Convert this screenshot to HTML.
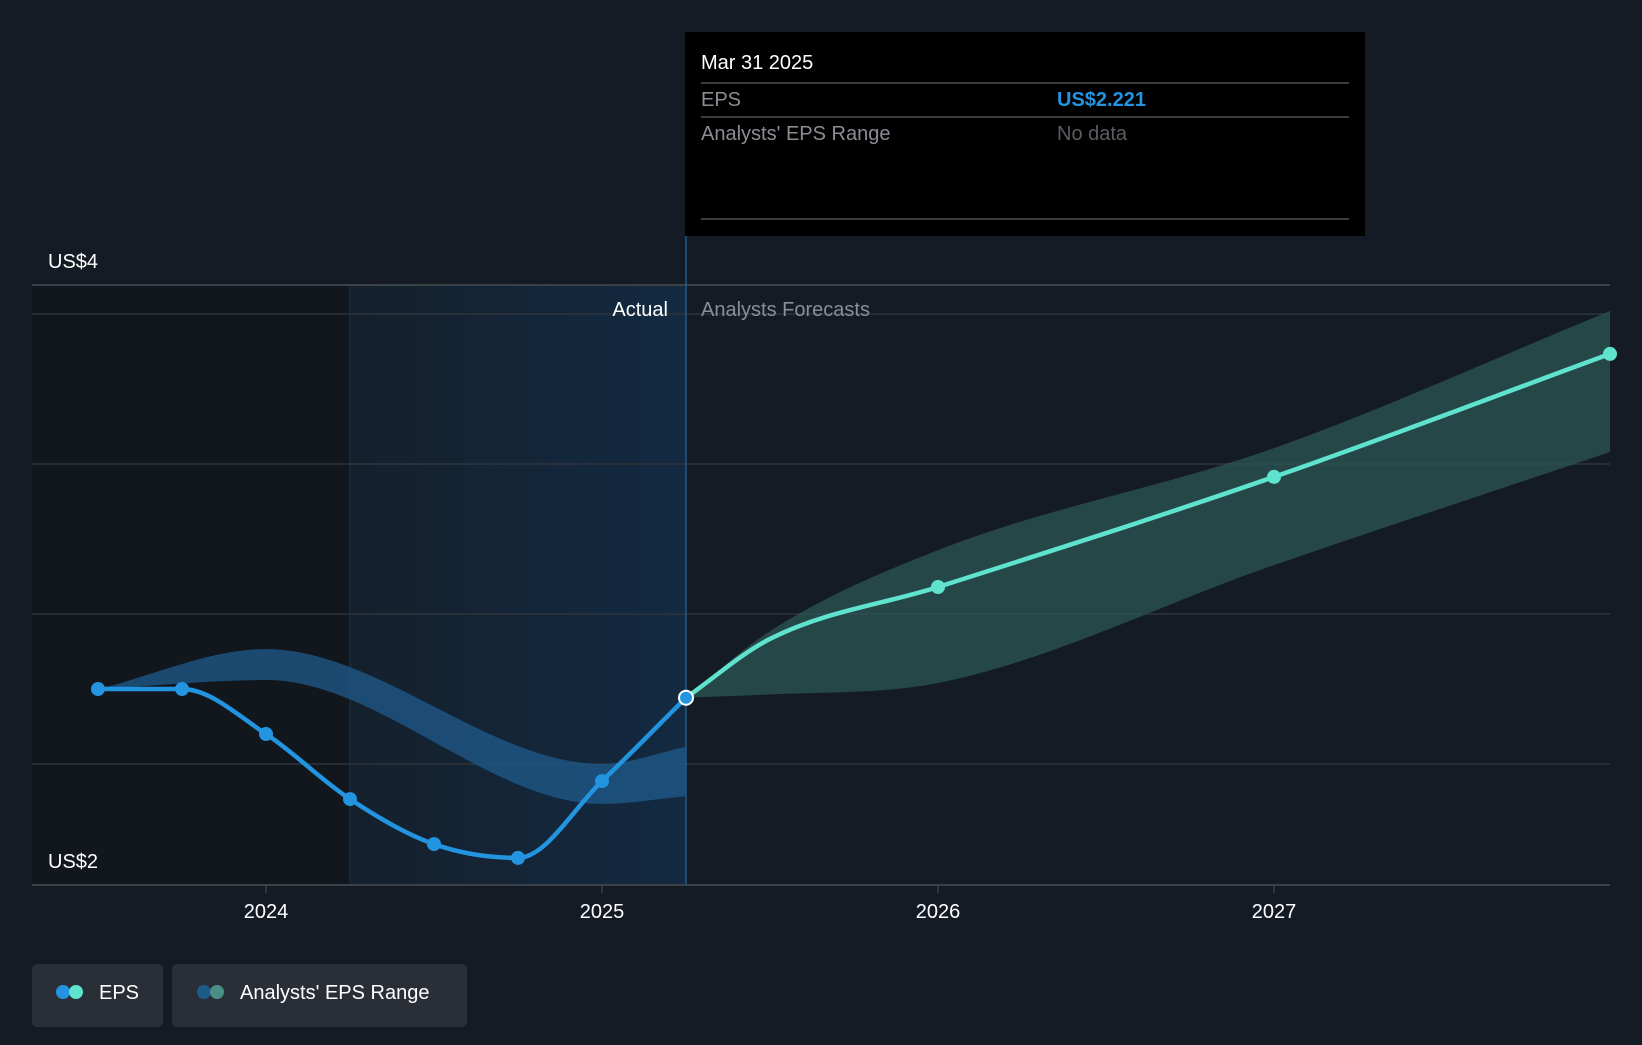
<!DOCTYPE html>
<html><head><meta charset="utf-8"><style>
html,body{margin:0;padding:0;background:#151b24;}
body{width:1642px;height:1040px;overflow:hidden;font-family:"Liberation Sans",sans-serif;}
svg text{font-family:"Liberation Sans",sans-serif;}
</style></head><body>
<svg id="chart" width="1642" height="1040" viewBox="0 0 1642 1040" xmlns="http://www.w3.org/2000/svg">
<defs>
<linearGradient id="actGrad" x1="0" x2="1" y1="0" y2="0">
<stop offset="0" stop-color="#14202c"/><stop offset="1" stop-color="#132a42"/>
</linearGradient>
</defs>
<rect x="0" y="0" width="1642" height="1040" fill="#151b24"/>
<rect x="32" y="285" width="318" height="600" fill="#12171e"/>
<rect x="350" y="285" width="336" height="600" fill="url(#actGrad)"/>
<line x1="350" y1="285" x2="350" y2="885" stroke="#1b3349" stroke-width="1"/>
<g id="grid"></g>
<g id="bands"></g>
<line x1="686" y1="236" x2="686" y2="885" stroke="#1e5a8a" stroke-width="1.5"/>
<g id="lines"></g>
<g id="ticks"></g>
<text x="48" y="268" fill="#ffffff" font-size="20" font-weight="500">US$4</text>
<text x="48" y="868" fill="#ffffff" font-size="20" font-weight="500">US$2</text>
<text x="668" y="316" fill="#ffffff" font-size="20" text-anchor="end">Actual</text>
<text x="701" y="316" fill="#8a8e94" font-size="20">Analysts Forecasts</text>
<g>
<rect x="685" y="32" width="680" height="204" fill="#000000"/>
<text x="701" y="69" fill="#ffffff" font-size="20">Mar 31 2025</text>
<line x1="701" y1="83" x2="1349" y2="83" stroke="#3a3d42" stroke-width="2"/>
<text x="701" y="106" fill="#8a8e94" font-size="20">EPS</text>
<text x="1057" y="106" fill="#2394df" font-size="20" font-weight="bold">US$2.221</text>
<line x1="701" y1="117" x2="1349" y2="117" stroke="#3a3d42" stroke-width="2"/>
<text x="701" y="140" fill="#8a8e94" font-size="20">Analysts' EPS Range</text>
<text x="1057" y="140" fill="#5a5d62" font-size="20">No data</text>
<line x1="701" y1="219" x2="1349" y2="219" stroke="#3a3d42" stroke-width="2"/>
</g>
<g>
<rect x="32" y="964" width="131" height="63" rx="5" fill="#2a2f37"/>
<circle cx="63" cy="992" r="7" fill="#2394df"/><circle cx="76" cy="992" r="7" fill="#5fe3cf"/>
<text x="99" y="999" fill="#ffffff" font-size="20">EPS</text>
</g>
<g>
<rect x="172" y="964" width="295" height="63" rx="5" fill="#2a2f37"/>
<circle cx="204" cy="992" r="7" fill="#1e5a8a"/><circle cx="217" cy="992" r="7" fill="#4a8f86"/>
<text x="240" y="999" fill="#ffffff" font-size="20">Analysts' EPS Range</text>
</g>
</svg>
<script>
const actualDates=[2023.5,2023.75,2024.0,2024.25,2024.5,2024.75,2025.0,2025.25];
const actualEps=[2.25,2.25,2.10,1.883,1.733,1.687,1.943,2.221];
const forecastDates=[2025.25,2025.5,2026.0,2027.0,2028.0];
const forecastEps=[2.221,2.417,2.59,2.957,3.367];
const forecastMarked=[false,false,true,true,true];
const pastRangeDates=[2023.5,2024.0,2025.0,2025.25];
const pastRangeHigh=[2.25,2.383,2.0,2.057];
const pastRangeLow=[2.25,2.28,1.867,1.893];
const fcRangeDates=[2025.25,2025.5,2026.0,2027.0,2028.0];
const fcRangeHigh=[2.221,2.443,2.713,3.053,3.51];
const fcRangeLow=[2.221,2.232,2.27,2.663,3.04];
const xTicks=[2024,2025,2026,2027];
const gridValues=[2.0,2.5,3.0,3.5];

const X=t=>266+(t-2024)*336;
const Y=v=>764-(v-2)*300;
const NS="http://www.w3.org/2000/svg";
function mk(tag,attrs,parent){const e=document.createElementNS(NS,tag);for(const k in attrs)e.setAttribute(k,attrs[k]);parent.appendChild(e);return e;}
function monoPts(xs,ys){
  const n=xs.length,d=[],m=[];
  for(let i=0;i<n-1;i++)d.push((ys[i+1]-ys[i])/(xs[i+1]-xs[i]));
  for(let i=0;i<n;i++){
    if(i==0)m.push(d[0]);else if(i==n-1)m.push(d[n-2]);
    else m.push(d[i-1]*d[i]<=0?0:(d[i-1]+d[i])/2);
  }
  for(let i=0;i<n-1;i++){if(d[i]==0){m[i]=0;m[i+1]=0;continue;}const a=m[i]/d[i],b=m[i+1]/d[i],s=a*a+b*b;if(s>9){const t=3/Math.sqrt(s);m[i]=t*a*d[i];m[i+1]=t*b*d[i];}}
  const segs=[];
  for(let i=0;i<n-1;i++){const h=(xs[i+1]-xs[i])/3;
    segs.push([[xs[i]+h,ys[i]+m[i]*h],[xs[i+1]-h,ys[i+1]-m[i+1]*h],[xs[i+1],ys[i+1]]]);}
  return segs;
}
function segStr(segs,flip){return segs.map(s=>" C"+s.map(q=>(flip?-q[0]:q[0])+","+q[1]).join(" ")).join("");}
function curve(ds,vs){const xs=ds.map(X),ys=vs.map(Y);return "M"+xs[0]+","+ys[0]+segStr(monoPts(xs,ys),false);}
function band(ds,hi,lo){
  const xs=ds.map(X),yh=hi.map(Y),yl=lo.map(Y);
  const rx=xs.slice().reverse().map(v=>-v),ry=yl.slice().reverse();
  return "M"+xs[0]+","+yh[0]+segStr(monoPts(xs,yh),false)+" L"+(-rx[0])+","+ry[0]+segStr(monoPts(rx,ry),true)+" Z";
}
const grid=document.getElementById('grid');
const topLine=mk('line',{x1:32,y1:285,x2:1610,y2:285,stroke:'#3c4148','stroke-width':2},grid);


gridValues.forEach(v=>{const l=mk('line',{x1:32,y1:Y(v),x2:1610,y2:Y(v),stroke:'#2e343c','stroke-width':1.5},grid);

});
const axis=mk('line',{x1:32,y1:885,x2:1610,y2:885,stroke:'#3c4148','stroke-width':2},grid);


const ticks=document.getElementById('ticks');
xTicks.forEach(t=>{const l=mk('line',{x1:X(t),y1:885,x2:X(t),y2:893,stroke:'#3c4148','stroke-width':1.5},ticks);


const tx=mk('text',{x:X(t),y:918,fill:'#ffffff','font-size':20,'text-anchor':'middle','font-weight':500},ticks);tx.textContent=t;

});
const bands=document.getElementById('bands');
const b1=mk('path',{d:band(pastRangeDates,pastRangeHigh,pastRangeLow),fill:'#1f5b8c','fill-opacity':0.75},bands);


const b2=mk('path',{d:band(fcRangeDates,fcRangeHigh,fcRangeLow),fill:'#2e5a58','fill-opacity':0.7},bands);


const lines=document.getElementById('lines');
const l1=mk('path',{d:curve(actualDates,actualEps),fill:'none',stroke:'#2394df','stroke-width':4.5},lines);


const l2=mk('path',{d:curve(forecastDates,forecastEps),fill:'none',stroke:'#5fe3cf','stroke-width':4.5},lines);


actualDates.forEach((t,i)=>{if(i==actualDates.length-1)return;const c=mk('circle',{cx:X(t),cy:Y(actualEps[i]),r:7,fill:'#2394df'},lines);

});
forecastDates.forEach((t,i)=>{if(!forecastMarked[i])return;const c=mk('circle',{cx:X(t),cy:Y(forecastEps[i]),r:7,fill:'#5fe3cf'},lines);

});
const hl=mk('circle',{cx:X(actualDates[7]),cy:Y(actualEps[7]),r:7,fill:'#2394df',stroke:'#ffffff','stroke-width':2},lines);


</script>
</body></html>
